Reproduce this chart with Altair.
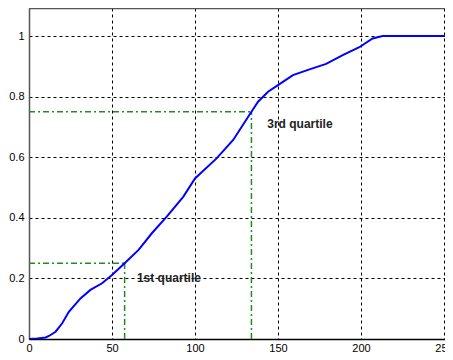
import altair as alt
import pandas as pd

cdf_x = [0, 5, 10, 12, 16, 20, 24, 31, 37, 44, 50, 57.6, 66, 74, 83, 93, 100,
         113, 123, 134, 138, 144, 150, 159, 169, 179, 189, 199, 207, 213, 256]
cdf_y = [0, 0.002, 0.005, 0.01, 0.024, 0.052, 0.09, 0.134, 0.162, 0.184, 0.211,
         0.25, 0.294, 0.349, 0.404, 0.47, 0.53, 0.596, 0.657, 0.75, 0.783, 0.816,
         0.838, 0.871, 0.89, 0.908, 0.937, 0.963, 0.992, 1.0, 1.0]

# Quartiles
q_labels = ["1st quartile", "3rd quartile"]
q_prob = [0.25, 0.75]
q_value = [57.6, 134]
label_x = [65, 143.5]
label_y = [0.2, 0.71]

x_ticks = [0, 50, 100, 150, 200, 250]
y_ticks = [0, 0.2, 0.4, 0.6, 0.8, 1]

W, H = 416, 331
x_dom = [0, W / 1.66]
y_dom = [0, 1 + 28 / 303]

cdf = pd.DataFrame({"x": cdf_x, "y": cdf_y})

seg_rows = []
for i, (p, v) in enumerate(zip(q_prob, q_value)):
    seg_rows.append({"id": f"h{i}", "x": 0, "y": p, "x2": v, "y2": p})
    seg_rows.append({"id": f"v{i}", "x": v, "y": 0, "x2": v, "y2": p})
segs = pd.DataFrame(seg_rows)
labels = pd.DataFrame({"t": q_labels, "x": label_x, "y": label_y})

xs = alt.Scale(domain=x_dom, nice=False, zero=False)
ys = alt.Scale(domain=y_dom, nice=False, zero=False)

x_axis = alt.Axis(values=x_ticks, title=None, grid=True, gridDash=[3, 3],
                  gridColor="black", gridOpacity=1, gridWidth=1,
                  domainColor="black", domainWidth=1.5, ticks=False,
                  labelPadding=3, labelFontSize=11, labelFont="Liberation Sans",
                  labelColor="black", labelFlush=False, labelOverlap=False)
y_axis = alt.Axis(values=y_ticks, title=None, grid=True, gridDash=[3, 3],
                  gridColor="black", gridOpacity=1, gridWidth=1,
                  domainColor="#555", domainWidth=1.5, ticks=False,
                  labelPadding=5, labelFontSize=11, labelFont="Liberation Sans",
                  labelColor="black", labelFlush=False, labelOverlap=False,
                  labelExpr="datum.value == 1 ? '1' : datum.value == 0 ? '0' : format(datum.value, '.1f')")

line = alt.Chart(cdf).mark_line(color="#0000ff", strokeWidth=2, clip=True).encode(
    x=alt.X("x:Q", scale=xs, axis=x_axis),
    y=alt.Y("y:Q", scale=ys, axis=y_axis),
)

guides = alt.Chart(segs).mark_rule(color="#228b22", strokeWidth=1.5,
                                   strokeDash=[6, 3, 2, 3]).encode(
    x=alt.X("x:Q", scale=xs),
    y=alt.Y("y:Q", scale=ys),
    x2="x2:Q",
    y2="y2:Q",
    detail="id:N",
)

text = alt.Chart(labels).mark_text(align="left", baseline="middle",
                                   font="Liberation Sans", fontSize=12,
                                   fontWeight="bold", color="#222").encode(
    x=alt.X("x:Q", scale=xs),
    y=alt.Y("y:Q", scale=ys),
    text="t:N",
)

top_frame = alt.Chart(pd.DataFrame({"a": [0]})).mark_rule(
    color="#555", strokeWidth=1.5).encode(
    x=alt.value(0), x2=alt.value(W), y=alt.value(0.5))

chart = alt.layer(guides, line, text, top_frame).properties(
    width=W, height=H,
    autosize=alt.AutoSizeParams(type="none"),
    padding={"left": 21, "top": 0, "right": 0, "bottom": 13},
).configure_view(stroke=None).configure(background="white")

chart.save("out.html", embed_options={"renderer": "svg", "actions": False})
